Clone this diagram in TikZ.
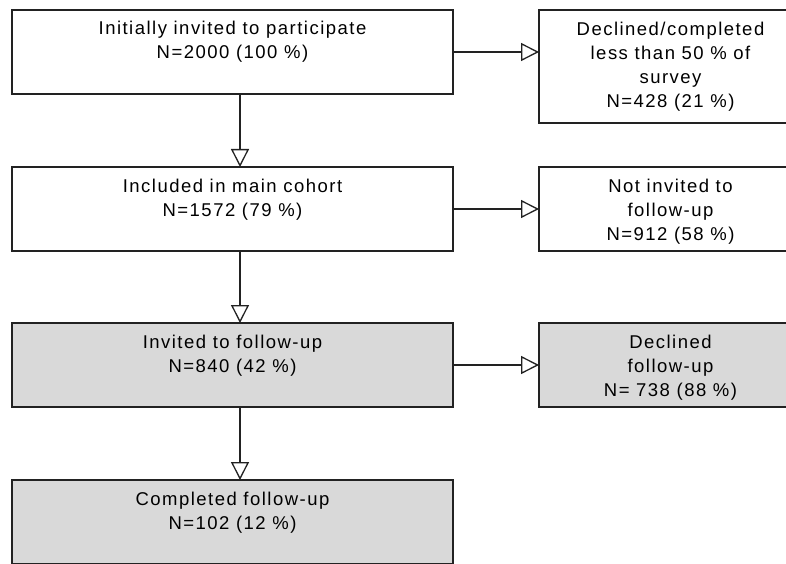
\documentclass[tikz,border=0pt]{standalone}
\usepackage{fontspec}
\setmainfont{Liberation Sans}[LetterSpace=8]
\usetikzlibrary{arrows.meta}
\definecolor{boxgray}{HTML}{D9D9D9}
\definecolor{linecol}{HTML}{222222}
\newcommand\flowtext[4]{\parbox[c][#2][t]{#1}{\centering\vspace*{#3}\strut #4\par}}
\tikzset{
  flowbox/.style={draw=linecol, line width=1.3pt, inner sep=0pt, outer sep=0pt, anchor=north west,
    font=\fontsize{18.5}{24.3}\selectfont},
  grayfill/.style={fill=boxgray},
  flowarrow/.style={draw=linecol, line width=1.3pt,
    -{Triangle[open, length=18pt, width=18pt, fill=white]}}
}
\begin{document}
\begin{tikzpicture}[x=1pt, y=-1pt]
  \useasboundingbox (0,0) rectangle (786,564);
  \clip (0,0) rectangle (786,564);
  \node[flowbox] (b1) at (12,10) {\flowtext{441pt}{84pt}{7pt}{Initially invited to participate\\N=2000 (100 \%)}};
  \node[flowbox] (r1) at (539,10) {\flowtext{263pt}{113pt}{8pt}{Declined/completed\\less than 50 \% of\\survey\\N=428 (21 \%)}};
  \node[flowbox] (b2) at (12,167) {\flowtext{441pt}{84pt}{8pt}{Included in main cohort\\N=1572 (79 \%)}};
  \node[flowbox] (r2) at (539,167) {\flowtext{263pt}{84pt}{8pt}{Not invited to\\follow-up\\N=912 (58 \%)}};
  \node[flowbox, grayfill] (b3) at (12,323) {\flowtext{441pt}{84pt}{8pt}{Invited to follow-up\\N=840 (42 \%)}};
  \node[flowbox, grayfill] (r3) at (539,323) {\flowtext{263pt}{84pt}{8pt}{Declined\\follow-up\\N= 738 (88 \%)}};
  \node[flowbox, grayfill] (b4) at (12,480) {\flowtext{441pt}{84pt}{8pt}{Completed follow-up\\N=102 (12 \%)}};
  \coordinate (ax) at (240,0);
  \draw[flowarrow] (b1.south -| ax) -- (b2.north -| ax);
  \draw[flowarrow] (b2.south -| ax) -- (b3.north -| ax);
  \draw[flowarrow] (b3.south -| ax) -- (b4.north -| ax);
  \draw[flowarrow] (b1.east) -- (b1.east -| r1.west);
  \draw[flowarrow] (b2.east) -- (b2.east -| r2.west);
  \draw[flowarrow] (b3.east) -- (b3.east -| r3.west);
\end{tikzpicture}
\end{document}
